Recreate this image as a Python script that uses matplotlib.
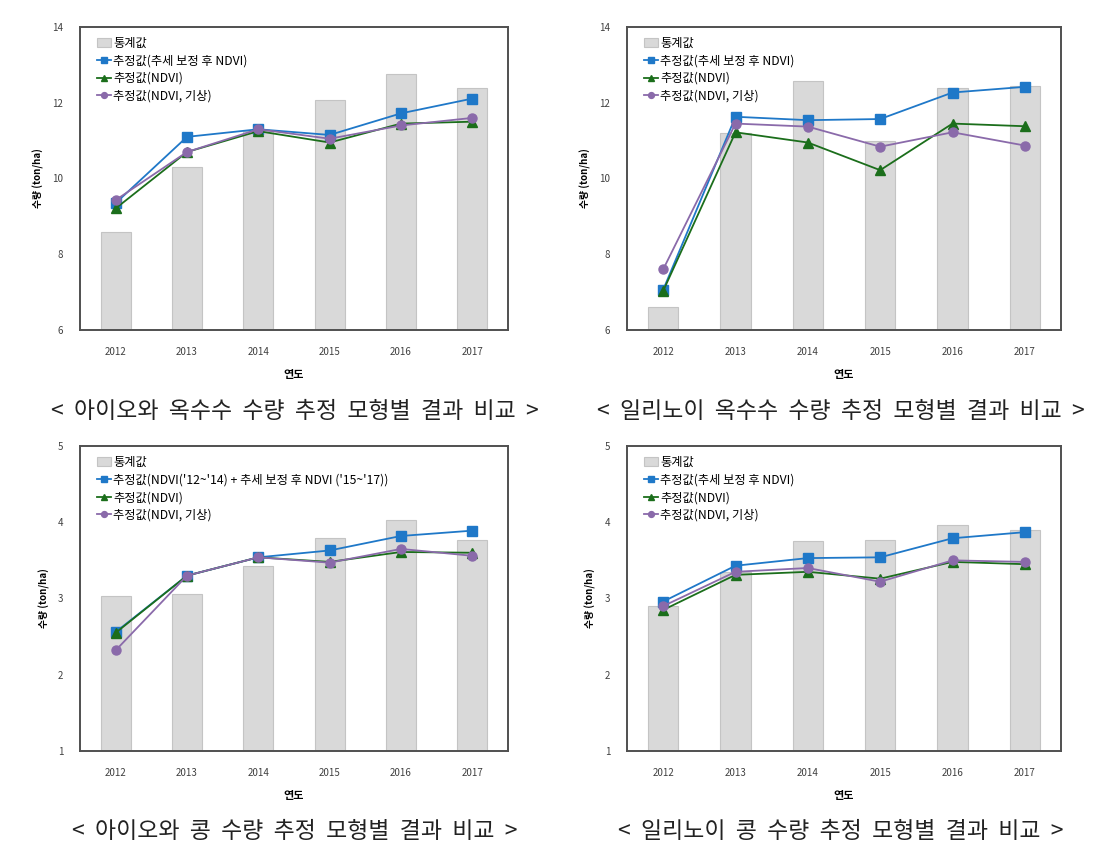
import numpy as np
import matplotlib
matplotlib.use("Agg")
import matplotlib.pyplot as plt

plt.rcParams['font.family'] = ['Noto Sans CJK KR', 'DejaVu Sans']

years = ['2012', '2013', '2014', '2015', '2016', '2017']

# Iowa corn
iowa_corn_stat = [8.6, 10.3, 11.25, 12.07, 12.77, 12.38]
iowa_corn_trend = [9.35, 11.1, 11.3, 11.15, 11.72, 12.11]
iowa_corn_ndvi = [9.21, 10.7, 11.25, 10.95, 11.45, 11.5]
iowa_corn_wx = [9.43, 10.7, 11.3, 11.05, 11.4, 11.6]

# Illinois corn
ill_corn_stat = [6.6, 11.2, 12.57, 11.0, 12.38, 12.44]
ill_corn_trend = [7.06, 11.63, 11.54, 11.57, 12.27, 12.42]
ill_corn_ndvi = [7.03, 11.22, 10.95, 10.22, 11.45, 11.38]
ill_corn_wx = [7.6, 11.45, 11.37, 10.84, 11.22, 10.87]

# Iowa soybean
iowa_soy_stat = [3.03, 3.06, 3.43, 3.8, 4.03, 3.77]
iowa_soy_trend = [2.56, 3.3, 3.54, 3.63, 3.82, 3.89]
iowa_soy_ndvi = [2.55, 3.3, 3.54, 3.48, 3.61, 3.6]
iowa_soy_wx = [2.32, 3.3, 3.54, 3.47, 3.65, 3.56]

# Illinois soybean
ill_soy_stat = [2.9, 3.35, 3.76, 3.77, 3.97, 3.9]
ill_soy_trend = [2.96, 3.43, 3.53, 3.54, 3.79, 3.87]
ill_soy_ndvi = [2.85, 3.31, 3.35, 3.26, 3.48, 3.45]
ill_soy_wx = [2.9, 3.35, 3.4, 3.22, 3.5, 3.48]

label_stat = '통계값'
label_trend = '추정값(추세 보정 후 NDVI)'
label_trend_mix = "추정값(NDVI('12~'14) + 추세 보정 후 NDVI ('15~'17))"
label_ndvi = '추정값(NDVI)'
label_wx = '추정값(NDVI, 기상)'

captions = ['<  아이오와  옥수수  수량  추정  모형별  결과  비교  >',
            '<  일리노이  옥수수  수량  추정  모형별  결과  비교  >',
            '<  아이오와  콩  수량  추정  모형별  결과  비교  >',
            '<  일리노이  콩  수량  추정  모형별  결과  비교  >']

W, H = 1113, 852
fig = plt.figure(figsize=(W / 100, H / 100), dpi=100)


def panel(rect, stat, trend, ndvi, wx, ylim, yticks, trend_label, caption, cap_x, cap_y):
    x = np.arange(len(years))
    ax = fig.add_axes(rect)
    bars = ax.bar(x, stat, width=0.42, color='#d9d9d9', edgecolor='#c4c4c4',
                  linewidth=0.8, label=label_stat)
    l1, = ax.plot(x, trend, color='#1f78c8', marker='s', markersize=6.5,
                  linewidth=1.3, label=trend_label, zorder=3)
    l2, = ax.plot(x, ndvi, color='#1b6e1b', marker='^', markersize=6.5,
                  linewidth=1.3, label=label_ndvi, zorder=3)
    l3, = ax.plot(x, wx, color='#8a6aaa', marker='o', markersize=6.5,
                  linewidth=1.3, label=label_wx, zorder=3)
    ax.set_xlim(-0.5, len(years) - 0.5)
    ax.set_ylim(*ylim)
    ax.set_yticks(yticks)
    ax.set_xticks(x)
    ax.set_xticklabels(years)
    ax.tick_params(length=0, labelsize=7, labelcolor='#404040', pad=12)
    for s in ax.spines.values():
        s.set_color('#505050')
        s.set_linewidth(1.4)
    ax.set_ylabel('수량 (ton/ha)', fontsize=7, fontweight='bold', labelpad=6)
    ax.set_xlabel('연도', fontsize=8, fontweight='bold', labelpad=8)
    ax.legend([bars, l1, l2, l3], [label_stat, trend_label, label_ndvi, label_wx],
              loc='upper left', bbox_to_anchor=(0.04, 0.968), frameon=False,
              fontsize=8.8, handlelength=1.1, handletextpad=0.2,
              labelspacing=0.38, borderaxespad=0, borderpad=0, markerscale=0.65)
    fig.text(cap_x / W, 1 - cap_y / H, caption, fontsize=16.5, ha='center',
             va='center', color='#222222')
    return ax


left1, right1 = 80, 508
left2, right2 = 627, 1061
top1, bot1 = 27, 330
top2, bot2 = 446, 751

def rect(l, r, t, b):
    return [l / W, 1 - b / H, (r - l) / W, (b - t) / H]

panel(rect(left1, right1, top1, bot1), iowa_corn_stat, iowa_corn_trend, iowa_corn_ndvi,
      iowa_corn_wx, (6, 14), [6, 8, 10, 12, 14], label_trend, captions[0], 295, 411)
panel(rect(left2, right2, top1, bot1), ill_corn_stat, ill_corn_trend, ill_corn_ndvi,
      ill_corn_wx, (6, 14), [6, 8, 10, 12, 14], label_trend, captions[1], 841, 411)
panel(rect(left1, right1, top2, bot2), iowa_soy_stat, iowa_soy_trend, iowa_soy_ndvi,
      iowa_soy_wx, (1, 5), [1, 2, 3, 4, 5], label_trend_mix, captions[2], 295, 831)
panel(rect(left2, right2, top2, bot2), ill_soy_stat, ill_soy_trend, ill_soy_ndvi,
      ill_soy_wx, (1, 5), [1, 2, 3, 4, 5], label_trend, captions[3], 841, 831)

fig.savefig('out.png', dpi=100)
